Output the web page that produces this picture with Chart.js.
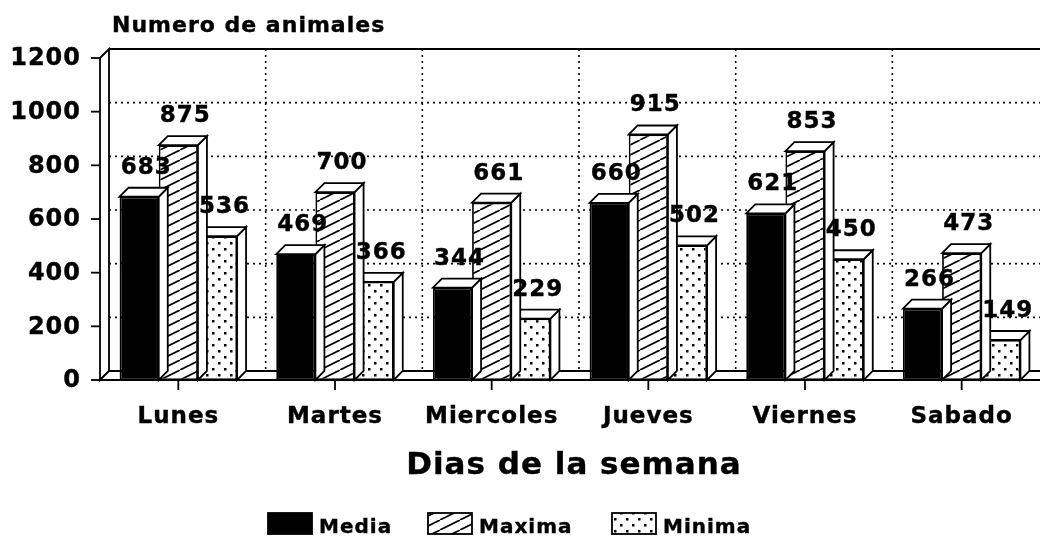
<!DOCTYPE html>
<html>
<head>
<meta charset="utf-8">
<script src="https://cdn.jsdelivr.net/npm/chart.js@4.4.1/dist/chart.umd.min.js"></script>
<style>
html, body { margin: 0; padding: 0; background: #fff; }
canvas { display: block; }
</style>
</head>
<body>
<canvas id="chart" width="1040" height="546"></canvas>
<script>
const categories = ['Lunes', 'Martes', 'Miercoles', 'Jueves', 'Viernes', 'Sabado'];
const media = [683, 469, 344, 660, 621, 266];
const maxima = [875, 700, 661, 915, 853, 473];
const minima = [536, 366, 229, 502, 450, 149];
const yTicks = [0, 200, 400, 600, 800, 1000, 1200];
const seriesNames = ['Media', 'Maxima', 'Minima'];

const FONT = '"DejaVu Sans", sans-serif';
const DX = 9, DY = 9;   // depth of the 3d effect

const canvas = document.getElementById('chart');
const ctx = canvas.getContext('2d');

function makeHatch() {
    const c = document.createElement('canvas');
    c.width = 20; c.height = 10;
    const g = c.getContext('2d');
    g.fillStyle = '#fff';
    g.fillRect(0, 0, 20, 10);
    g.strokeStyle = '#000';
    g.lineWidth = 1.7;
    g.beginPath();
    g.moveTo(-20, 10); g.lineTo(0, 0);
    g.moveTo(0, 10); g.lineTo(20, 0);
    g.moveTo(20, 10); g.lineTo(40, 0);
    g.stroke();
    return ctx.createPattern(c, 'repeat');
}

function makeDots() {
    const c = document.createElement('canvas');
    c.width = 12; c.height = 12;
    const g = c.getContext('2d');
    g.fillStyle = '#fff';
    g.fillRect(0, 0, 12, 12);
    g.fillStyle = '#000';
    g.fillRect(2, 2, 2.5, 2.5);
    g.fillRect(8, 8, 2.5, 2.5);
    return ctx.createPattern(c, 'repeat');
}

const fills = ['#000', makeHatch(), makeDots()];

function poly(c, pts) {
    c.beginPath();
    c.moveTo(pts[0][0], pts[0][1]);
    for (let i = 1; i < pts.length; i++) c.lineTo(pts[i][0], pts[i][1]);
    c.closePath();
    c.fillStyle = '#fff';
    c.fill();
    c.stroke();
}

// bold, spaced text like the scanned print
function text(c, s, x, y) {
    c.letterSpacing = '1px';
    c.fillText(s, x, y);
    c.lineWidth = 0.4;
    c.strokeText(s, x, y);
}

const frame3d = {
    id: 'frame3d',
    beforeDatasetsDraw(chart) {
        const c = chart.ctx;
        const xs = chart.scales.x, ys = chart.scales.y;
        const left = chart.chartArea.left, right = chart.chartArea.right;
        const top = ys.getPixelForValue(1200), bottom = ys.getPixelForValue(0);
        c.save();
        c.strokeStyle = '#000';
        c.lineWidth = 1.6;

        // back wall dotted grid
        c.setLineDash([2, 4]);
        yTicks.forEach(v => {
            if (v === 0 || v === 1200) return;
            const py = ys.getPixelForValue(v) - DY;
            c.beginPath();
            c.moveTo(left + DX, py);
            c.lineTo(right, py);
            c.stroke();
        });
        for (let i = 0; i < categories.length - 1; i++) {
            const px = (xs.getPixelForValue(i) + xs.getPixelForValue(i + 1)) / 2 + DX;
            c.beginPath();
            c.moveTo(px, top - DY);
            c.lineTo(px, bottom - DY);
            c.stroke();
        }
        c.setLineDash([]);
        c.lineWidth = 1.8;

        // top edge of back wall
        c.beginPath();
        c.moveTo(left + DX, top - DY);
        c.lineTo(right, top - DY);
        c.stroke();

        // left wall and floor
        poly(c, [[left, top], [left + DX, top - DY], [left + DX, bottom - DY], [left, bottom]]);
        poly(c, [[left, bottom], [left + DX, bottom - DY], [right + DX, bottom - DY], [right, bottom]]);

        // y axis ticks and labels
        c.fillStyle = '#000';
        c.font = 'bold 24px ' + FONT;
        c.textAlign = 'right';
        c.textBaseline = 'middle';
        yTicks.forEach(v => {
            const py = ys.getPixelForValue(v);
            c.lineWidth = 1.8;
            c.beginPath();
            c.moveTo(left - 9, py);
            c.lineTo(left, py);
            c.stroke();
            text(c, String(v), left - 19, py + 1);
        });

        // x ticks and category labels
        c.font = 'bold 23px ' + FONT;
        c.textAlign = 'center';
        c.textBaseline = 'alphabetic';
        categories.forEach((name, i) => {
            const px = xs.getPixelForValue(i);
            c.lineWidth = 1.8;
            c.beginPath();
            c.moveTo(px, bottom);
            c.lineTo(px, bottom + 10);
            c.stroke();
            text(c, name, px, bottom + 43);
        });
        c.restore();
    },
    afterDatasetDraw(chart, args) {
        const c = chart.ctx;
        c.save();
        c.strokeStyle = '#000';
        c.lineWidth = 1.8;
        args.meta.data.forEach(bar => {
            const l = bar.x - bar.width / 2, r = bar.x + bar.width / 2;
            const t = bar.y, b = bar.base;
            poly(c, [[r, t], [r + DX, t - DY], [r + DX, b - DY], [r, b]]);
            poly(c, [[l, t], [l + DX, t - DY], [r + DX, t - DY], [r, t]]);
        });
        c.restore();
    },
    afterDatasetsDraw(chart) {
        const c = chart.ctx;
        c.save();
        c.fillStyle = '#000';
        c.strokeStyle = '#000';

        // value labels
        c.font = 'bold 23px ' + FONT;
        c.textAlign = 'center';
        c.textBaseline = 'alphabetic';
        chart.data.datasets.forEach((ds, di) => {
            chart.getDatasetMeta(di).data.forEach((bar, i) => {
                text(c, String(ds.data[i]), bar.x + 7, bar.y - DY - 14);
            });
        });

        // titles
        c.textAlign = 'left';
        c.font = 'bold 22px ' + FONT;
        text(c, 'Numero de animales', 112, 32);
        c.textAlign = 'center';
        c.font = 'bold 31px ' + FONT;
        text(c, 'Dias de la semana', 574, 474);

        // legend
        const boxX = [268, 428, 612];
        c.font = 'bold 20px ' + FONT;
        c.textAlign = 'left';
        seriesNames.forEach((name, i) => {
            c.lineWidth = 1.8;
            c.fillStyle = fills[i];
            c.fillRect(boxX[i], 513, 44, 21);
            c.strokeRect(boxX[i], 513, 44, 21);
            c.fillStyle = '#000';
            text(c, name, boxX[i] + 51, 533);
        });
        c.restore();
    }
};

new Chart(ctx, {
    type: 'bar',
    data: {
        labels: categories,
        datasets: [
            { label: seriesNames[0], data: media, backgroundColor: fills[0] },
            { label: seriesNames[1], data: maxima, backgroundColor: fills[1] },
            { label: seriesNames[2], data: minima, backgroundColor: fills[2] }
        ].map(ds => Object.assign(ds, {
            borderColor: '#000',
            borderWidth: 1.8,
            borderSkipped: false,
            categoryPercentage: 0.75,
            barPercentage: 1.0
        }))
    },
    options: {
        responsive: false,
        animation: false,
        layout: { padding: { left: 100, right: 0, top: 58, bottom: 166 } },
        plugins: {
            legend: { display: false },
            tooltip: { enabled: false }
        },
        scales: {
            x: { display: false },
            y: { display: false, min: 0, max: 1200 }
        }
    },
    plugins: [frame3d]
});
</script>
</body>
</html>
